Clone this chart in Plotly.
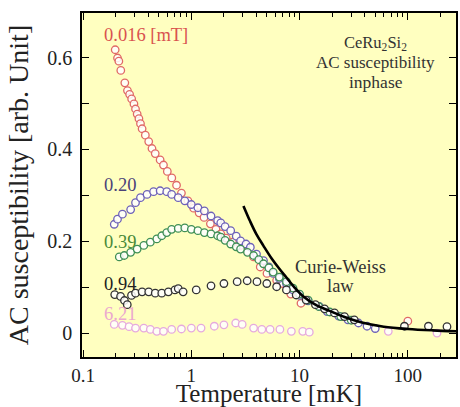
import plotly.graph_objects as go

# ---- data ----
red_T = [0.198,0.208,0.214,0.223,0.243,0.257,0.269,0.281,0.295,0.305,0.316,0.328,0.339,0.351,0.376,0.404,0.433,0.464,0.515,0.553,0.60,0.66,0.73,0.81,0.93,1.05,1.18,1.31,1.5,1.69,1.87,2.1,2.4,2.85,3.3,3.76,4.33,5.0,6.14,7.0,8.3,10.3,100]
red_y = [0.617,0.599,0.592,0.572,0.545,0.528,0.520,0.510,0.499,0.488,0.477,0.467,0.456,0.445,0.431,0.417,0.402,0.391,0.377,0.366,0.352,0.338,0.322,0.305,0.288,0.272,0.262,0.252,0.238,0.226,0.216,0.207,0.198,0.191,0.178,0.166,0.144,0.130,0.115,0.108,0.085,0.065,0.026]

pur_T = [0.194,0.208,0.231,0.275,0.305,0.339,0.39,0.448,0.515,0.593,0.658,0.757,0.87,1.0,1.15,1.32,1.52,1.75,1.87,2.05,2.31,2.6,2.85,3.2,3.51,4.0,4.64,5.2,5.7,6.5,7.56,8.7,10,12,15.2,18,23,28,35,42,50]
pur_y = [0.237,0.248,0.259,0.269,0.284,0.295,0.302,0.308,0.310,0.308,0.302,0.295,0.288,0.280,0.273,0.266,0.255,0.245,0.240,0.232,0.223,0.211,0.201,0.194,0.187,0.172,0.158,0.144,0.130,0.119,0.108,0.094,0.082,0.070,0.058,0.047,0.037,0.029,0.022,0.015,0.010]

grn_T = [0.216,0.24,0.275,0.316,0.364,0.418,0.48,0.533,0.593,0.658,0.757,0.87,1.0,1.15,1.32,1.52,1.75,1.87,2.05,2.31,2.6,2.85,3.3,3.76,4.2,4.64,5.2,5.7,6.5,7.56,8.7,10,12,15,19,24,30]
grn_y = [0.166,0.169,0.176,0.183,0.191,0.198,0.205,0.212,0.219,0.226,0.228,0.229,0.226,0.223,0.219,0.216,0.212,0.209,0.202,0.194,0.188,0.183,0.176,0.169,0.160,0.151,0.142,0.133,0.122,0.112,0.098,0.085,0.072,0.058,0.046,0.036,0.028]

blk_T = [0.196,0.222,0.241,0.256,0.28,0.305,0.351,0.404,0.464,0.533,0.614,0.706,0.757,0.84,1.11,1.52,2.0,2.65,3.28,4.04,4.98,6.14,7.56,9.3,11.5,14,17,21,26,32,93,155,230]
blk_y = [0.084,0.080,0.071,0.062,0.082,0.087,0.090,0.090,0.087,0.087,0.090,0.094,0.097,0.090,0.094,0.103,0.108,0.112,0.114,0.112,0.108,0.101,0.094,0.083,0.072,0.062,0.053,0.044,0.036,0.029,0.015,0.015,0.014]

pnk_T = [0.194,0.231,0.266,0.305,0.364,0.418,0.48,0.553,0.658,0.81,1.0,1.23,1.63,2.0,2.57,2.95,3.76,4.48,5.34,6.58,8.4,10.7,12.3,66,186]
pnk_y = [0.019,0.017,0.014,0.011,0.011,0.008,0.004,0.004,0.008,0.009,0.011,0.011,0.015,0.018,0.022,0.019,0.011,0.008,0.008,0.008,0.004,0.004,0.002,0.004,0.000]

cw_T = [3.03,3.5,4.0,4.64,5.5,6.5,7.56,9,10.7,14,18.7,26,37.6,60,100,170,285]
cw_y = [0.277,0.243,0.215,0.190,0.163,0.140,0.121,0.099,0.081,0.062,0.049,0.035,0.023,0.014,0.009,0.006,0.004]

x_tickvals = [0.1, 1, 10, 100]
x_ticktext = ["0.1", "1", "10", "100"]
y_tickvals = [0, 0.2, 0.4, 0.6]
y_ticktext = ["0", "0.2", "0.4", "0.6"]

series = [
    ("0.016 [mT]", red_T, red_y, "#E06A66"),
    ("0.20", pur_T, pur_y, "#6E62B8"),
    ("0.39", grn_T, grn_y, "#3F8F55"),
    ("0.94", blk_T, blk_y, "#333333"),
    ("6.21", pnk_T, pnk_y, "#E6AADD"),
]

FONT = "Liberation Serif"
fig = go.Figure()
for name, xs, ys, col in series:
    fig.add_trace(go.Scatter(
        x=xs, y=ys, mode="markers", name=name,
        marker=dict(symbol="circle", size=7.5, color="rgba(255,255,255,0.85)",
                    line=dict(color=col, width=1.3)),
        showlegend=False))

fig.add_trace(go.Scatter(x=cw_T, y=cw_y, mode="lines", line=dict(color="black", width=2.6, shape="spline"),
                         showlegend=False))

axis_common = dict(showline=True, linecolor="black", linewidth=1.5, mirror="ticks",
                   ticks="inside", tickcolor="black", ticklen=7, tickwidth=1.2,
                   showgrid=False, zeroline=False)

fig.update_xaxes(type="log", range=[-1.01, 2.445], tickvals=x_tickvals, ticktext=x_ticktext,
                 tickfont=dict(family=FONT, size=19, color="#222"),
                 minor=dict(ticks="inside", ticklen=4, tickcolor="black", dtick="D1", showgrid=False),
                 title=dict(text="Temperature [mK]", font=dict(family=FONT, size=25, color="#222"), standoff=2),
                 **axis_common)
fig.update_yaxes(range=[-0.052, 0.697], tickvals=y_tickvals, ticktext=y_ticktext,
                 tickfont=dict(family=FONT, size=20, color="#222"),
                 ticklabelstandoff=4,
                 minor=dict(ticks="inside", ticklen=7, tickcolor="black", dtick=0.1, tick0=0, showgrid=False),
                 title=dict(text="AC susceptibility [arb. Unit]", font=dict(family=FONT, size=28, color="#222"), standoff=10),
                 **axis_common)

def ann(text, x, y, color, size, xanchor="left"):
    fig.add_annotation(text=text, x=x, y=y, xref="paper", yref="paper", showarrow=False,
                       xanchor=xanchor, yanchor="middle", font=dict(family=FONT, size=size, color=color))

ann("0.016 [mT]", 0.053, 0.937, "#D9534F", 18.5)
ann("0.20", 0.053, 0.500, "#4B4278", 18.5)
ann("0.39", 0.053, 0.333, "#4A8A38", 18.5)
ann("0.94", 0.053, 0.213, "#222222", 18.5)
ann("6.21", 0.053, 0.126, "#EBA8CF", 18.5)
ann("CeRu<sub>2</sub>Si<sub>2</sub>", 0.785, 0.914, "#333", 16.5, "center")
ann("AC susceptibility", 0.785, 0.856, "#333", 17, "center")
ann("inphase", 0.785, 0.799, "#333", 17.5, "center")
ann("Curie-Weiss", 0.691, 0.263, "#333", 18.5, "center")
ann("law", 0.691, 0.207, "#333", 18.5, "center")

fig.update_layout(width=460, height=407, margin=dict(l=82, r=2, t=13, b=46),
                  plot_bgcolor="rgb(255,255,192)", paper_bgcolor="white")

fig.write_html("out.html")
